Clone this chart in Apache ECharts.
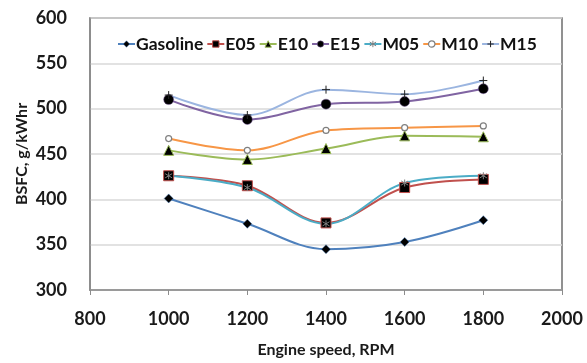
<!DOCTYPE html>
<html>
<head>
<meta charset="utf-8">
<script src="https://cdn.jsdelivr.net/npm/echarts@6/dist/echarts.min.js"></script>
<style>
html, body { margin: 0; padding: 0; background: #fff; }
#chart { width: 587px; height: 363px; }
</style>
</head>
<body>
<div id="chart"></div>
<script>
var rpm = [1000, 1200, 1400, 1600, 1800];
var xTicks = [800, 1000, 1200, 1400, 1600, 1800, 2000];
var yTicks = [300, 350, 400, 450, 500, 550, 600];

var gasoline = [401, 373, 345, 353, 377];
var e05 = [426, 415, 374, 413, 422];
var e10 = [454, 444, 456, 470, 469];
var e15 = [510, 488, 505, 508, 522];
var m05 = [426, 413, 373, 418, 426];
var m10 = [467, 454, 476, 479, 481];
var m15 = [515, 493, 521, 516, 531];

var asterisk = 'path://M5,0L5,10M0,2L10,8M0,8L10,2';
var plus = 'path://M5,0L5,10M0,5L10,5';

function pairs(vals) {
  return rpm.map(function (x, i) { return [x, vals[i]]; });
}

var legendItems = [];

function mkSeries(name, vals, lineColor, symbol, size, mark) {
  legendItems.push({ name: name, itemStyle: mark, lineStyle: { color: lineColor, width: 2 } });
  return {
    name: name,
    type: 'line',
    data: pairs(vals),
    smooth: 0.35,
    symbol: symbol,
    symbolSize: size,
    lineStyle: { color: lineColor, width: 2 },
    itemStyle: mark,
    emphasis: { disabled: true },
    z: 3
  };
}

var series = [
  mkSeries('Gasoline', gasoline, '#4f81bd', 'diamond', 9, { color: '#000', borderColor: '#4f81bd', borderWidth: 0.5 }),
  mkSeries('E05', e05, '#c0504d', 'rect', 10, { color: '#000', borderColor: '#c0504d', borderWidth: 1 }),
  mkSeries('E10', e10, '#9bbb59', 'triangle', 10, { color: '#000', borderColor: '#9bbb59', borderWidth: 1 }),
  mkSeries('E15', e15, '#8064a2', 'circle', 10, { color: '#000', borderColor: '#8064a2', borderWidth: 0.5 }),
  mkSeries('M05', m05, '#4bacc6', asterisk, 7, { color: 'none', borderColor: '#7f7f7f', borderWidth: 1 }),
  mkSeries('M10', m10, '#f79646', 'circle', 6, { color: '#fff', borderColor: '#7f7f7f', borderWidth: 1.2 }),
  mkSeries('M15', m15, '#9bb5e0', plus, 8, { color: 'none', borderColor: '#222', borderWidth: 1 })
];

var chart = echarts.init(document.getElementById('chart'));
var labelFont = { fontFamily: 'Lato', fontWeight: 'bold', color: '#1a1a1a' };

var option = {
  animation: false,
  grid: {
    left: 90, right: 25, top: 18, bottom: 69,
    show: true, borderColor: '#6e6e6e', borderWidth: 1.5
  },
  legend: {
    top: 30, left: 112,
    itemWidth: 17, itemHeight: 8, itemGap: 3,
    textStyle: { fontFamily: 'Lato', fontWeight: 'bold', fontSize: 17.5, color: '#111', padding: [0, 0, 0, -4] },
    data: legendItems
  },
  xAxis: {
    type: 'value', min: xTicks[0], max: xTicks[xTicks.length - 1], interval: 200,
    name: 'Engine speed, RPM', nameLocation: 'middle', nameGap: 52,
    nameTextStyle: Object.assign({ fontSize: 16 }, labelFont),
    axisLine: { show: true, lineStyle: { color: '#8c8c8c', width: 1.5 } },
    axisTick: { show: true, length: 5, lineStyle: { color: '#8c8c8c' } },
    axisLabel: Object.assign({ fontSize: 18, margin: 20, formatter: function (v) { return String(v); } }, labelFont),
    splitLine: { show: false }
  },
  yAxis: {
    type: 'value', min: yTicks[0], max: yTicks[yTicks.length - 1], interval: 50,
    name: 'BSFC, g/kWhr', nameLocation: 'middle', nameGap: 60, nameRotate: 90,
    nameMoveOverlap: false,
    nameTextStyle: Object.assign({ fontSize: 16 }, labelFont),
    axisLine: { show: true, lineStyle: { color: '#8c8c8c', width: 1.5 } },
    axisTick: { show: false },
    axisLabel: Object.assign({ fontSize: 18, margin: 23 }, labelFont),
    splitLine: { show: true, lineStyle: { color: '#d9d9d9', width: 1.5 } }
  },
  series: series
};
chart.setOption(option);
</script>
</body>
</html>
